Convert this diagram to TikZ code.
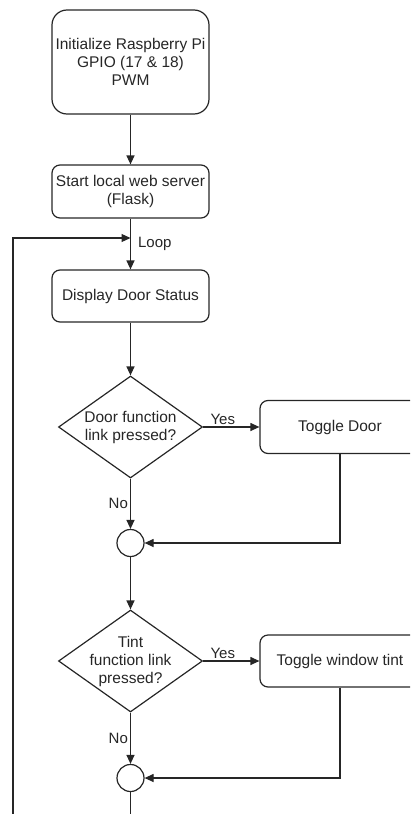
\documentclass[tikz,border=0pt]{standalone}
\usepackage{fontspec}
\setmainfont{Liberation Sans}
\usetikzlibrary{shapes.geometric,arrows.meta}
\begin{document}
\begin{tikzpicture}[x=1pt,y=-1pt,line width=1.2pt,draw=black!85,
  every node/.style={font=\fontsize{15.5}{18}\selectfont, text=black!85},
  proc/.style={draw, rectangle, rounded corners=8pt, minimum width=157pt, minimum height=53pt, inner sep=0pt, align=center},
  decision/.style={draw, diamond, minimum width=144pt, minimum height=102pt, inner sep=0pt},
  joint/.style={draw, circle, minimum size=27pt, inner sep=0pt},
  arr/.style={-{Triangle[length=9pt,width=8pt]}},
  lbl/.style={font=\fontsize{15}{17}\selectfont, inner sep=2pt}]
\clip (0,0) rectangle (410,814);
\node[proc, minimum height=104pt, rounded corners=15pt] (init) at (130.5,62) {Initialize Raspberry Pi\\GPIO (17 \& 18)\\PWM};
\node[proc] (server) at (130.5,191.5) {Start local web server\\(Flask)};
\node[proc, minimum height=52pt] (status) at (130.5,296) {Display Door Status};
\node[decision, label={[align=center]center:{Door function\\link pressed?}}] (doorq) at (130.5,427) {};
\node[proc, minimum width=160pt] (door) at (340,427) {Toggle Door};
\node[joint] (join1) at (130.5,543) {};
\node[decision, label={[align=center]center:{Tint\\function link\\pressed?}}] (tintq) at (130.5,661) {};
\node[proc, minimum width=160pt, minimum height=52pt] (tint) at (340,661) {Toggle window tint};
\node[joint] (join2) at (130.5,778) {};
\coordinate (loopin) at (130.5,238);
\coordinate (loopend) at (13,814);
\coordinate (exit) at (130.5,814);
% main line
\draw[arr] (init) -- (server);
\draw[arr] (server) -- node[lbl, right, inner sep=7pt, pos=0.5]{Loop} (status);
\draw[arr] (loopend) |- (loopin);
\draw[arr] (status) -- (doorq);
% door branch
\draw[arr] (doorq) -- node[lbl, above, pos=0.35]{Yes} (door);
\draw[arr] (doorq) -- node[lbl, left]{No} (join1);
\draw[arr] (door) |- (join1);
\draw[arr] (join1) -- (tintq);
% tint branch
\draw[arr] (tintq) -- node[lbl, above, pos=0.35]{Yes} (tint);
\draw[arr] (tintq) -- node[lbl, left]{No} (join2);
\draw[arr] (tint) |- (join2);
\draw (join2) -- (exit);
\end{tikzpicture}
\end{document}
